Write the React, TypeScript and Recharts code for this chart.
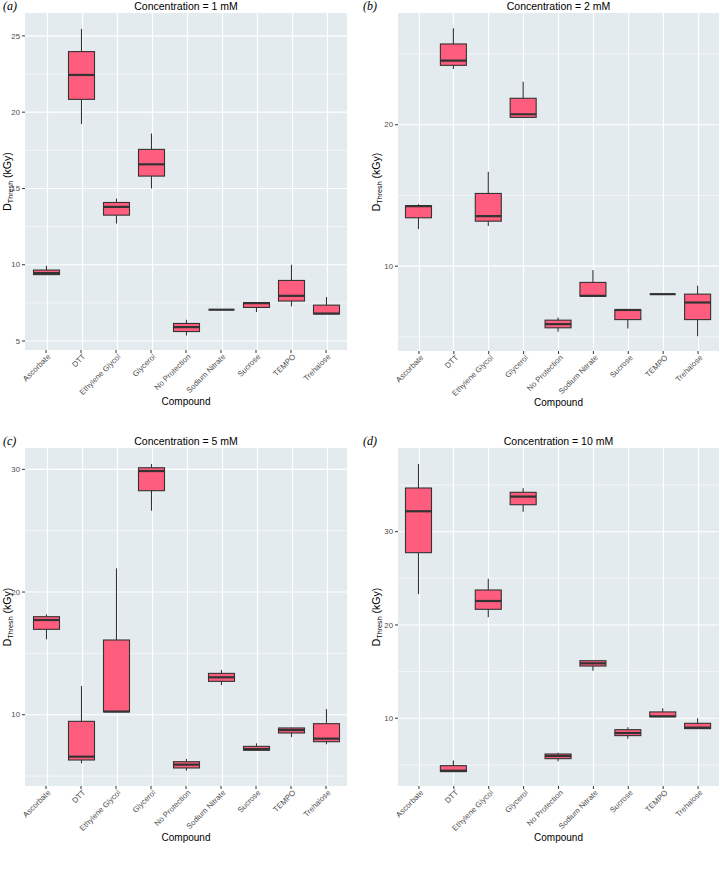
import { FC } from 'react';
import {
  ComposedChart,
  Bar,
  XAxis,
  YAxis,
  CartesianGrid,
} from 'recharts';

const compounds = [
  'Ascorbate',
  'DTT',
  'Ethylene Glycol',
  'Glycerol',
  'No Protection',
  'Sodium Nitrate',
  'Sucrose',
  'TEMPO',
  'Trehalose',
];

// five-number summaries: [min, q1, median, q3, max]
const conc1mM = [
  [9.33, 9.35, 9.45, 9.65, 9.93],
  [19.22, 20.84, 22.44, 23.97, 25.46],
  [12.7, 13.25, 13.79, 14.08, 14.34],
  [15.0, 15.81, 16.58, 17.56, 18.6],
  [5.36, 5.62, 5.91, 6.15, 6.39],
  [7.05, 7.05, 7.05, 7.05, 7.05],
  [6.9, 7.2, 7.48, 7.52, 7.55],
  [7.27, 7.62, 7.96, 8.97, 10.0],
  [6.78, 6.78, 6.8, 7.35, 7.88],
];
const conc2mM = [
  [12.62, 13.42, 14.25, 14.27, 14.37],
  [23.94, 24.2, 24.53, 25.71, 26.82],
  [12.83, 13.18, 13.54, 15.14, 16.67],
  [20.45, 20.52, 20.74, 21.87, 23.04],
  [5.36, 5.64, 5.9, 6.18, 6.37],
  [7.88, 7.88, 7.9, 8.85, 9.72],
  [5.59, 6.22, 6.9, 6.93, 6.95],
  [8.02, 8.02, 8.02, 8.02, 8.02],
  [5.04, 6.22, 7.43, 8.02, 8.61],
];
const conc5mM = [
  [16.15, 16.96, 17.72, 17.99, 18.18],
  [6.04, 6.31, 6.58, 9.46, 12.34],
  [10.24, 10.24, 10.26, 16.09, 21.93],
  [26.63, 28.26, 29.86, 30.13, 30.43],
  [5.44, 5.66, 5.93, 6.17, 6.39],
  [12.42, 12.72, 13.05, 13.37, 13.64],
  [7.1, 7.1, 7.2, 7.42, 7.67],
  [8.18, 8.51, 8.75, 8.92, 8.95],
  [7.59, 7.8, 8.05, 9.27, 10.46],
];
const conc10mM = [
  [23.32, 27.75, 32.19, 34.68, 37.26],
  [4.28, 4.28, 4.38, 4.92, 5.46],
  [20.82, 21.68, 22.57, 23.75, 24.96],
  [32.14, 32.89, 33.75, 34.22, 34.65],
  [5.39, 5.67, 5.96, 6.17, 6.31],
  [15.1, 15.6, 15.89, 16.17, 16.2],
  [7.81, 8.14, 8.42, 8.78, 9.04],
  [10.17, 10.17, 10.21, 10.68, 11.07],
  [8.89, 8.89, 9.0, 9.46, 10.0],
];

const ticks1 = [5, 10, 15, 20, 25];
const minor1 = [7.5, 12.5, 17.5, 22.5];
const ticks2 = [10, 20];
const minor2 = [5, 15, 25];
const ticks5 = [10, 20, 30];
const minor5 = [5, 15, 25];
const ticks10 = [10, 20, 30];
const minor10 = [5, 15, 25, 35];

const FONT = '"Liberation Sans", Arial, sans-serif';
const BG = '#e4ebee';
const FILL = '#ff5d7d';
const EDGE = '#333333';

type Row = {
  name: string;
  range: [number, number];
  stats: number[];
};

const toRows = (stats: number[][], domain: [number, number]): Row[] =>
  compounds.map((name, i) => ({
    name,
    range: [domain[0], stats[i][4]],
    stats: stats[i],
  }));

// bar spans [domain min, max]; other values are placed along it.
// ceil is the domain top, used for the white vertical grid line.
const BoxShape = (props: any) => {
  const { x, y, width, height, payload, ceil } = props;
  const [lo, hi] = payload.range;
  const [mn, q1, med, q3, mx] = payload.stats;
  const top = Math.min(y, y + height);
  const bottom = Math.max(y, y + height);
  const px = (v: number) =>
    hi === lo ? bottom : bottom - ((v - lo) / (hi - lo)) * (bottom - top);
  const cx = x + width / 2;
  const gx = Math.round(cx) + 0.5;
  const gridTop = hi === lo ? bottom - 400 : px(ceil);
  return (
    <g>
      <path
        d={`M${gx},${gridTop}L${gx},${bottom}`}
        stroke="#ffffff"
        strokeWidth={1.2}
        fill="none"
      />
      <line x1={cx} x2={cx} y1={px(mx)} y2={px(q3)} stroke={EDGE} strokeWidth={1.1} />
      <line x1={cx} x2={cx} y1={px(q1)} y2={px(mn)} stroke={EDGE} strokeWidth={1.1} />
      <rect
        x={x}
        y={px(q3)}
        width={width}
        height={Math.max(px(q1) - px(q3), 0)}
        fill={FILL}
        stroke={EDGE}
        strokeWidth={1.1}
      />
      <line x1={x} x2={x + width} y1={px(med)} y2={px(med)} stroke={EDGE} strokeWidth={2.2} />
    </g>
  );
};

const XTick = (props: any) => {
  const { x, y, payload } = props;
  return (
    <g transform={`translate(${x},${y})`}>
      <text
        x={0}
        y={0}
        dy={5}
        dx={2}
        transform="rotate(-45)"
        textAnchor="end"
        fontSize={7.8}
        fontFamily={FONT}
        fill="#4d4d4d"
      >
        {payload.value}
      </text>
    </g>
  );
};

interface PanelProps {
  left: number;
  top: number;
  height: number;
  marginTop: number;
  axisWidth: number;
  marginRight: number;
  domain: [number, number];
  ticks: number[];
  minor: number[];
  stats: number[][];
  title: string;
  tag: string;
  plotTop: number;
  plotBottom: number;
  plotLeft: number;
  plotRight: number;
}

const Panel: FC<PanelProps> = (p) => {
  const data = toRows(p.stats, p.domain);
  const mid = (p.plotLeft + p.plotRight) / 2;
  return (
    <>
      <div style={{ position: 'absolute', left: p.left, top: p.top }}>
        <ComposedChart
          width={360}
          height={p.height}
          data={data}
          margin={{ top: p.marginTop, right: p.marginRight, left: 0, bottom: 0 }}
        >
          <CartesianGrid
            stroke="#ffffff"
            strokeWidth={0.55}
            fill={BG}
            fillOpacity={1}
            vertical={false}
            horizontalValues={p.minor}
          />
          <CartesianGrid
            stroke="#ffffff"
            strokeWidth={1.1}
            vertical={false}
            horizontalValues={p.ticks}
          />
          <XAxis
            dataKey="name"
            height={70}
            axisLine={false}
            tickSize={3}
            tickLine={{ stroke: EDGE }}
            tick={<XTick />}
            interval={0}
            padding={{ left: 3.5, right: 3.5 }}
          />
          <YAxis
            type="number"
            domain={p.domain}
            ticks={p.ticks}
            allowDataOverflow
            width={p.axisWidth}
            axisLine={false}
            tickSize={3}
            tickLine={{ stroke: EDGE }}
            tick={{ fontSize: 7.8, fill: '#4d4d4d', fontFamily: FONT }}
          />
          <Bar
            dataKey="range"
            barSize={26}
            shape={<BoxShape ceil={p.domain[1]} />}
            isAnimationActive={false}
          />
        </ComposedChart>
      </div>
      <div
        style={{
          position: 'absolute',
          left: mid - 100,
          width: 200,
          top: p.plotTop - 13,
          lineHeight: '12px',
          textAlign: 'center',
          fontFamily: FONT,
          fontSize: 10.5,
          color: '#000',
        }}
      >
        {p.title}
      </div>
      <div
        style={{
          position: 'absolute',
          left: p.left + 3,
          top: p.plotTop - 13,
          lineHeight: '13px',
          fontFamily: '"Liberation Serif", "DejaVu Serif", serif',
          fontStyle: 'italic',
          fontSize: 12,
          color: '#000',
        }}
      >
        {p.tag}
      </div>
      <div
        style={{
          position: 'absolute',
          left: mid - 50,
          width: 100,
          top: p.plotBottom + 46,
          textAlign: 'center',
          fontFamily: FONT,
          fontSize: 10,
          color: '#000',
        }}
      >
        Compound
      </div>
      <svg
        style={{ position: 'absolute', left: p.left, top: p.plotTop }}
        width={24}
        height={p.plotBottom - p.plotTop}
      >
        <text
          transform={`translate(${p.axisWidth > 30 ? 20 : 11},${(p.plotBottom - p.plotTop) / 2}) rotate(-90)`}
          textAnchor="middle"
          fontFamily={FONT}
          fontSize={10.5}
          fill="#000"
        >
          D
          <tspan fontSize={7.2} dy={2}>
            Thresh
          </tspan>
          <tspan dy={-2}> (kGy)</tspan>
        </text>
      </svg>
    </>
  );
};

const App: FC = () => {
  return (
    <div
      style={{
        position: 'absolute',
        left: 0,
        top: 0,
        width: 720,
        height: 871,
        background: '#ffffff',
        overflow: 'hidden',
      }}
    >
      <Panel
        left={0}
        top={0}
        height={420}
        marginTop={13}
        axisWidth={25}
        marginRight={13}
        domain={[4.41, 26.5]}
        ticks={ticks1}
        minor={minor1}
        stats={conc1mM}
        title="Concentration = 1 mM"
        tag="(a)"
        plotTop={13}
        plotBottom={350}
        plotLeft={25}
        plotRight={347}
      />
      <Panel
        left={360}
        top={0}
        height={421}
        marginTop={13}
        axisWidth={38}
        marginRight={1}
        domain={[4.0, 27.9]}
        ticks={ticks2}
        minor={minor2}
        stats={conc2mM}
        title="Concentration = 2 mM"
        tag="(b)"
        plotTop={13}
        plotBottom={351}
        plotLeft={398}
        plotRight={719}
      />
      <Panel
        left={0}
        top={420}
        height={436}
        marginTop={28}
        axisWidth={25}
        marginRight={13}
        domain={[4.19, 31.74]}
        ticks={ticks5}
        minor={minor5}
        stats={conc5mM}
        title="Concentration = 5 mM"
        tag="(c)"
        plotTop={448}
        plotBottom={786}
        plotLeft={25}
        plotRight={347}
      />
      <Panel
        left={360}
        top={420}
        height={436}
        marginTop={28}
        axisWidth={38}
        marginRight={1}
        domain={[2.74, 38.97]}
        ticks={ticks10}
        minor={minor10}
        stats={conc10mM}
        title="Concentration = 10 mM"
        tag="(d)"
        plotTop={448}
        plotBottom={786}
        plotLeft={398}
        plotRight={719}
      />
    </div>
  );
};

export default App;
